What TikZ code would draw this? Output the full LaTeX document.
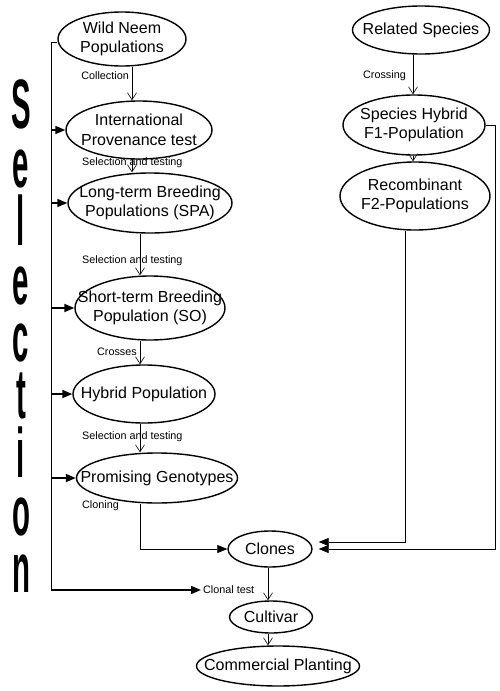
\documentclass[tikz,border=0pt]{standalone}
\usepackage{fontspec}
\setmainfont{Liberation Sans}
\usetikzlibrary{shapes.geometric,arrows.meta}
\tikzset{
  ell/.style={draw, ellipse, line width=1.4pt, inner sep=0pt},
  txt/.style={font=\fontsize{16}{19.5}\selectfont, align=center, inner sep=0pt},
  lbl/.style={font=\fontsize{10.8}{12}\selectfont, inner sep=0pt},
  varrow/.style={line width=0.6pt, -{Straight Barb[length=7pt,width=9pt]}},
  selarrow/.style={line width=1.6pt, -{Triangle[length=10pt,width=8pt]}},
  thinarrow/.style={line width=0.7pt, -{Triangle[length=10pt,width=8pt]}},
  selletter/.style={font=\fontsize{70}{70}\selectfont\bfseries, inner sep=0pt, anchor=base},
}
\begin{document}
\begin{tikzpicture}[x=1pt,y=-1pt]
\fill[white] (0,0) rectangle (500,691);
\useasboundingbox (0,0) rectangle (500,691);

% ellipses
\node[ell, minimum width=128pt, minimum height=54pt] (wild) at (122,39) {};
\node[txt] (wildt) at (wild.center) {Wild Neem\\Populations};
\node[ell, minimum width=146pt, minimum height=58pt] (intl) at (139,130) {};
\node[txt] (intlt) at (intl.center) {International\\Provenance test};
\node[ell, minimum width=164pt, minimum height=60pt] (spa) at (150,203) {};
\node[txt] (spat) at (spa.center) {Long-term Breeding\\Populations (SPA)};
\node[ell, minimum width=150pt, minimum height=64pt] (so) at (150,308) {};
\node[txt] (sot) at (so.center) {Short-term Breeding\\Population (SO)};
\node[ell, minimum width=142pt, minimum height=58pt] (hyb) at (144,394) {};
\node[txt] (hybt) at (hyb.center) {Hybrid Population};
\node[ell, minimum width=161pt, minimum height=50pt] (prom) at (157,478) {};
\node[txt] (promt) at (prom.center) {Promising Genotypes};
\node[ell, minimum width=84pt, minimum height=36pt] (clones) at (270,549) {};
\node[txt] (clonest) at (clones.center) {Clones};
\node[ell, minimum width=83pt, minimum height=32pt] (cult) at (271,617) {};
\node[txt] (cultt) at (cult.center) {Cultivar};
\node[ell, minimum width=163pt, minimum height=40pt] (comm) at (278,666) {};
\node[txt] (commt) at (comm.center) {Commercial Planting};
\node[ell, minimum width=137pt, minimum height=48pt] (rel) at (421,30) {};
\node[txt] (relt) at (rel.center) {Related Species};
\node[ell, minimum width=142pt, minimum height=60pt] (f1) at (414,125) {};
\node[txt] (f1t) at (f1.center) {Species Hybrid\\F1-Population};
\node[ell, minimum width=150pt, minimum height=68pt] (f2) at (415,196) {};
\node[txt] (f2t) at (f2.center) {Recombinant\\F2-Populations};

% labels
\node[lbl, anchor=east] (l1) at (129,76) {Collection};
\node[lbl, anchor=west] (l2) at (82,163) {Selection and testing};
\node[lbl, anchor=west] (l3) at (82,261) {Selection and testing};
\node[lbl, anchor=east] (l4) at (137,352) {Crosses};
\node[lbl, anchor=west] (l5) at (82,437) {Selection and testing};
\node[lbl, anchor=west] (l6) at (82,506) {Cloning};
\node[lbl, anchor=east] (l7) at (406,76) {Crossing};
\node[lbl, anchor=west] (ctest) at (203,590) {Clonal test};

% vertical flow arrows
\draw[varrow] ([xshift=10pt]wild.south) -- ([xshift=-7pt]intl.north);
\draw[varrow] ([xshift=-7pt]intl.south) -- ([xshift=-18pt]spa.north);
\draw[varrow] ([xshift=-10pt]spa.south) -- ([xshift=-10pt]so.north);
\draw[varrow] ([xshift=-10pt]so.south) -- ([xshift=-4pt]hyb.north);
\draw[varrow] ([xshift=-4pt]hyb.south) -- ([xshift=-17pt]prom.north);
\draw[varrow] ([xshift=-8pt]rel.south) -- ([xshift=-1pt]f1.north);
\draw[varrow] ([xshift=-1pt]f1.south) -- ([xshift=-2pt]f2.north);
\draw[varrow] ([xshift=-2pt]clones.south) -- ([xshift=-3pt]cult.north);
\draw[varrow] ([xshift=-3pt]cult.south) -- ([xshift=-10pt]comm.north);

% into clones
\draw[thinarrow] ([xshift=-17pt]prom.south) |- (clones.west);
\draw[thinarrow, shorten >=6pt] ([xshift=-10pt]f2.south) |- ([yshift=7pt]clones.east);
\draw[thinarrow, shorten >=6pt] (f1.east) -- ++(10pt,0) |- (clones.east);

% selection line
\draw[line width=0.8pt] ([yshift=-3pt]wild.west) -- ++(-6pt,0) coordinate (seltop) -- (seltop |- ctest.west) coordinate (selbot);
\draw[selarrow] (selbot) -- ([xshift=-2pt]ctest.west);
\draw[selarrow] (seltop |- intl.west) -- (intl.west);
\draw[selarrow] (seltop |- spa.west) -- (spa.west);
\draw[selarrow] (seltop |- so.west) -- (so.west);
\draw[selarrow] (seltop |- hyb.west) -- (hyb.west);
\draw[selarrow] (seltop |- prom.west) -- (prom.west);

% Selection letters
\node[selletter] (sel1) at (21,128) {\scalebox{0.42}[1]{S}};
\node[selletter] (sel2) at (21,187) {\scalebox{0.42}[1]{e}};
\node[selletter] (sel3) at (21,245) {\scalebox{0.42}[1]{l}};
\node[selletter] (sel4) at (21,304) {\scalebox{0.42}[1]{e}};
\node[selletter] (sel5) at (21,361) {\scalebox{0.42}[1]{c}};
\node[selletter] (sel6) at (21,418) {\scalebox{0.42}[1]{t}};
\node[selletter] (sel7) at (21,477) {\scalebox{0.42}[1]{i}};
\node[selletter] (sel8) at (21,535) {\scalebox{0.42}[1]{o}};
\node[selletter] (sel9) at (21,592) {\scalebox{0.42}[1]{n}};
\end{tikzpicture}
\end{document}
